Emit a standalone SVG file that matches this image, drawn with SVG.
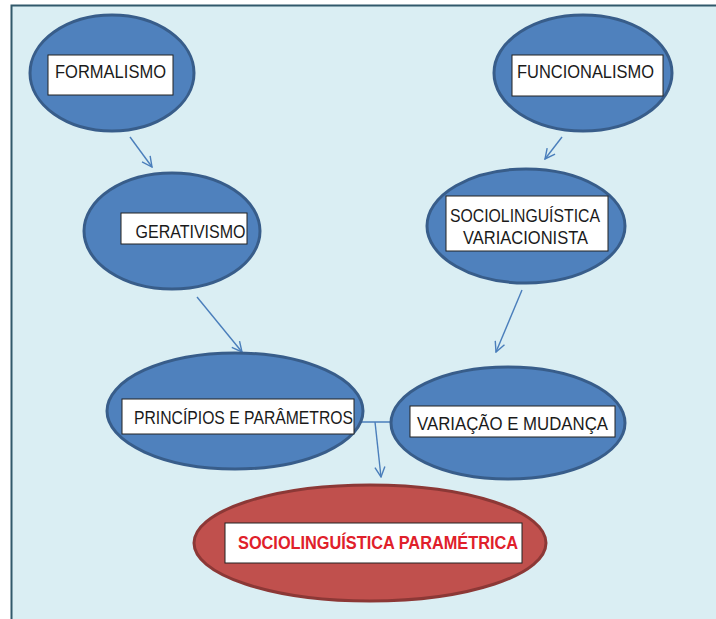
<svg xmlns="http://www.w3.org/2000/svg" width="716" height="619" viewBox="0 0 716 619">
<defs>
<marker id="arr" viewBox="0 0 12 12" refX="11" refY="6" markerWidth="12" markerHeight="12" markerUnits="userSpaceOnUse" orient="auto">
<path d="M1,1 L11,6 L1,11" fill="none" stroke="#4A7EBB" stroke-width="1.4"/>
</marker>
</defs>
<style>
.bn{fill:#4F81BD;stroke:#385D8A;stroke-width:3}
.rn{fill:#C0504D;stroke:#8C3836;stroke-width:3}
.box{fill:#FFFFFF;stroke:#222222;stroke-width:1}
.t{font-family:"Liberation Sans",Arial,sans-serif;font-size:18px;fill:#1A1A1A;text-anchor:middle}
.rt{font-family:"Liberation Sans",Arial,sans-serif;font-size:18px;font-weight:bold;fill:#E0202A;text-anchor:middle}
.c{fill:none;stroke:#4A7EBB;stroke-width:1.4}
</style>
<rect x="0" y="0" width="716" height="619" fill="#FFFFFF"/>
<rect x="11" y="5" width="705" height="614" fill="#DAEEF3"/>
<path d="M11.5,619 V5.5 H716" fill="none" stroke="#31596B" stroke-width="2"/>

<g id="connectors">
<line class="c" x1="130" y1="137" x2="152" y2="167" marker-end="url(#arr)"/>
<line class="c" x1="562" y1="137" x2="545" y2="159" marker-end="url(#arr)"/>
<line class="c" x1="197" y1="297" x2="242" y2="352" marker-end="url(#arr)"/>
<line class="c" x1="522" y1="290" x2="496" y2="352" marker-end="url(#arr)"/>
<path class="c" d="M354,422 H391"/>
<line class="c" x1="375" y1="422" x2="381" y2="477" marker-end="url(#arr)"/>
</g>

<g id="formalismo">
<ellipse class="bn" cx="112" cy="73" rx="82" ry="58"/>
<rect class="box" x="48" y="55" width="125" height="40"/>
<text class="t" x="110.5" y="78" textLength="111" lengthAdjust="spacingAndGlyphs">FORMALISMO</text>
</g>

<g id="funcionalismo">
<ellipse class="bn" cx="583" cy="73" rx="89" ry="58"/>
<rect class="box" x="512" y="55" width="151" height="41"/>
<text class="t" x="585.5" y="78" textLength="137" lengthAdjust="spacingAndGlyphs">FUNCIONALISMO</text>
</g>

<g id="gerativismo">
<ellipse class="bn" cx="172" cy="231" rx="88" ry="58"/>
<rect class="box" x="121" y="213" width="126" height="31"/>
<text class="t" x="190.5" y="238" textLength="110" lengthAdjust="spacingAndGlyphs">GERATIVISMO</text>
</g>

<g id="sociolinguistica-variacionista">
<ellipse class="bn" cx="526" cy="226" rx="99" ry="57"/>
<rect class="box" x="446" y="196" width="162" height="55"/>
<text class="t" x="525" y="222" textLength="150" lengthAdjust="spacingAndGlyphs">SOCIOLINGUÍSTICA</text>
<text class="t" x="525.5" y="244" textLength="125" lengthAdjust="spacingAndGlyphs">VARIACIONISTA</text>
</g>

<g id="principios-parametros">
<ellipse class="bn" cx="235" cy="411" rx="128" ry="58"/>
<rect class="box" x="122" y="399" width="232" height="35"/>
<text class="t" x="243.5" y="424" textLength="219" lengthAdjust="spacingAndGlyphs">PRINCÍPIOS E PARÂMETROS</text>
</g>

<g id="variacao-mudanca">
<ellipse class="bn" cx="508" cy="423" rx="117" ry="56"/>
<rect class="box" x="410" y="406" width="205" height="31"/>
<text class="t" x="512.5" y="430" textLength="191" lengthAdjust="spacingAndGlyphs">VARIAÇÃO E MUDANÇA</text>
</g>

<g id="sociolinguistica-parametrica">
<ellipse class="rn" cx="370" cy="543" rx="176" ry="58"/>
<rect class="box" x="225" y="523" width="297" height="40"/>
<text class="rt" x="378" y="549" textLength="280" lengthAdjust="spacingAndGlyphs">SOCIOLINGUÍSTICA PARAMÉTRICA</text>
</g>
</svg>
